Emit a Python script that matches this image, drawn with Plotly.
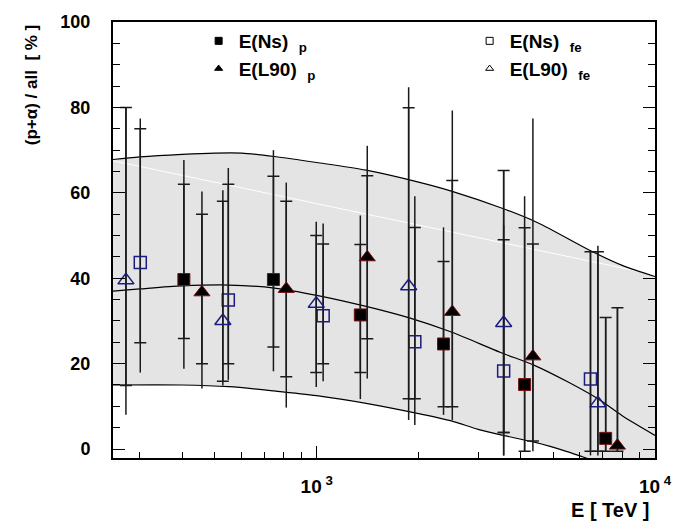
import numpy as np
import plotly.graph_objects as go

# ---------------- data ----------------
# E(Ns)_p  (filled squares)
nsp_E = [405, 745, 1346, 2371, 4117, 7148]
nsp_y = [39.7, 39.7, 31.4, 24.6, 15.1, 2.5]
nsp_tick_hi = [62.0, 63.9, 47.9, 43.9, 51.8, 30.8]
nsp_tick_lo = [25.9, 23.9, 17.9, 9.9, -0.5, -0.5]
nsp_end_hi = [67.7, 70.0, 54.7, 51.9, 59.2, 30.8]
nsp_end_lo = [18.8, 18.2, 11.7, 8.0, -0.5, -0.5]

# E(L90)_p (filled triangles)
lp_E = [458, 813, 1411, 2517, 4356, 7745]
lp_y = [36.7, 37.5, 44.9, 32.1, 21.7, 0.8]
lp_tick_hi = [55.0, 58.0, 64.0, 62.9, 48.0, 33.1]
lp_tick_lo = [20.0, 16.9, 25.8, 9.9, 1.9, -0.5]
lp_end_hi = [60.3, 62.4, 71.0, 79.3, 77.4, 33.1]
lp_end_lo = [14.2, 9.7, 16.5, 6.8, -0.5, -0.5]

# E(Ns)_fe (open squares)
nsf_E = [301, 548, 1045, 1950, 3570, 6446]
nsf_y = [43.7, 34.9, 31.2, 25.1, 18.3, 16.4]
nsf_tick_hi = [75.0, 62.0, 48.0, 51.9, 49.0, 46.2]
nsf_tick_lo = [24.9, 20.0, 20.0, 11.8, 3.9, -0.5]
nsf_end_hi = [77.4, 65.8, 52.8, 59.2, 52.4, 46.4]
nsf_end_lo = [17.9, 16.2, 15.9, 5.6, -1.5, -1.5]

# E(L90)_fe (open triangles)
lf_E = [273, 528, 997, 1870, 3570, 6780]
lf_y = [39.5, 30.0, 34.0, 38.1, 29.5, 10.7]
lf_tick_hi = [80.0, 58.0, 50.0, 79.9, 65.2, 46.2]
lf_tick_lo = [14.9, 15.9, 17.9, 11.8, 3.9, -0.5]
lf_end_hi = [80.0, 60.6, 53.2, 84.7, 65.2, 47.6]
lf_end_lo = [8.0, 14.9, 14.5, 6.8, -1.5, -1.5]

# model curves
upper_E = [250, 300, 400, 500, 600, 750, 1000, 1400, 2000, 2500, 3500, 4500, 6500, 8000, 10000]
upper_y = [67.8, 68.4, 69.0, 69.3, 69.3, 68.5, 67.1, 65.3, 62.5, 60.4, 56.5, 53.0, 46.3, 43.0, 40.4]
mid_E = [250, 300, 400, 550, 750, 1000, 1400, 1900, 2500, 3500, 4400, 5500, 6800, 8000, 10000]
mid_y = [37.0, 37.5, 38.2, 38.4, 37.7, 36.0, 33.4, 30.6, 27.4, 22.6, 19.6, 15.8, 11.7, 7.8, 3.2]
lower_E = [250, 400, 550, 750, 1000, 1400, 2000, 2500, 3000, 3500, 4400, 5500, 6100, 7000, 10000]
lower_y = [15.0, 15.0, 14.6, 13.6, 12.5, 10.7, 8.3, 6.6, 4.6, 3.3, 1.6, -0.6, -1.8, -3.5, -8.0]
faint_E = [250, 10000]
faint_y = [67.5, 40.8]

# axis ticks
x_tickvals = [1000, 10000]
x_ticktext = ["<b>10</b><sup><b> 3</b></sup>", "<b>10</b><sup><b> 4</b></sup>"]
x_minor = [300, 400, 500, 600, 700, 800, 900, 2000, 3000, 4000, 5000, 6000, 7000, 8000, 9000]
y_tickvals = [0, 20, 40, 60, 80, 100]
y_ticktext = ["<b>0</b>", "<b>20</b>", "<b>40</b>", "<b>60</b>", "<b>80</b>", "<b>100</b>"]

FONT = "Liberation Sans, Arial, Helvetica, sans-serif"
fig = go.Figure()

# shaded band (upper curve + reversed lower curve)
band_x = upper_E + lower_E[::-1]
band_y = upper_y + lower_y[::-1]
fig.add_trace(go.Scatter(x=band_x, y=band_y, fill="toself", fillcolor="#e4e4e4",
                         line=dict(width=0), mode="lines", showlegend=False, hoverinfo="skip"))
fig.add_trace(go.Scatter(x=faint_E, y=faint_y, mode="lines", line=dict(color="white", width=1),
                         showlegend=False, hoverinfo="skip"))
for cx, cy in [(upper_E, upper_y), (mid_E, mid_y), (lower_E, lower_y)]:
    fig.add_trace(go.Scatter(x=cx, y=cy, mode="lines", line=dict(color="black", width=1.2, shape="spline", smoothing=0.8),
                             showlegend=False, hoverinfo="skip"))

def add_series(E, y, thi, tlo, ehi, elo, symbol, color, lcolor, lwidth, size):
    y = np.array(y); thi = np.array(thi); tlo = np.array(tlo)
    ehi = np.array(ehi); elo = np.array(elo)
    # outer extent, no caps
    fig.add_trace(go.Scatter(x=E, y=y, mode="markers", marker=dict(size=1, opacity=0),
                             error_y=dict(type="data", symmetric=False, array=ehi - y, arrayminus=y - elo,
                                          width=0, thickness=1.5, color="#1a1a1a"),
                             showlegend=False, hoverinfo="skip"))
    # inner error with caps + markers
    fig.add_trace(go.Scatter(x=E, y=y, mode="markers",
                             marker=dict(symbol=symbol, size=size, color=color, line=dict(color=lcolor, width=lwidth)),
                             error_y=dict(type="data", symmetric=False, array=thi - y, arrayminus=y - tlo,
                                          width=6, thickness=1.5, color="#1a1a1a"),
                             showlegend=False))

add_series(nsp_E, nsp_y, nsp_tick_hi, nsp_tick_lo, nsp_end_hi, nsp_end_lo, "square", "black", "#7a1010", 1, 12)
add_series(lp_E, lp_y, lp_tick_hi, lp_tick_lo, lp_end_hi, lp_end_lo, "triangle-up", "black", "#7a1010", 1, 14)
add_series(nsf_E, nsf_y, nsf_tick_hi, nsf_tick_lo, nsf_end_hi, nsf_end_lo, "square-open", "#1c1c80", "#1c1c80", 1.5, 12)
add_series(lf_E, lf_y, lf_tick_hi, lf_tick_lo, lf_end_hi, lf_end_lo, "triangle-up-open", "#1c1c80", "#1c1c80", 1.5, 14)

# legend-only entries (two legends: left column and right column)
leg = [("<b>E(Ns)&nbsp;&nbsp;<sub>p</sub></b>", "square", "legend", "a"),
       ("<b>E(L90)&nbsp;&nbsp;<sub>p</sub></b>", "triangle-up", "legend", "b"),
       ("<b>E(Ns)&nbsp;&nbsp;<sub>fe</sub></b>", "square-open", "legend2", "c"),
       ("<b>E(L90)&nbsp;&nbsp;<sub>fe</sub></b>", "triangle-up-open", "legend2", "d")]
for name, sym, lg, grp in leg:
    fig.add_trace(go.Scatter(x=[None], y=[None], mode="markers", name=name, legend=lg, legendgroup=grp,
                             marker=dict(symbol=sym, size=7, color="black", line=dict(color="black", width=1))))

legend_common = dict(bgcolor="rgba(0,0,0,0)", font=dict(size=19, family=FONT, color="black"),
                     traceorder="normal", xanchor="left", yanchor="top", tracegroupgap=4)
fig.update_layout(
    width=685, height=525,
    margin=dict(l=113, r=30, t=20, b=67),
    paper_bgcolor="white", plot_bgcolor="white",
    font=dict(family=FONT, color="black", size=16),
    legend=dict(x=0.158, y=1.0, **legend_common),
    legend2=dict(x=0.658, y=1.0, **legend_common),
    xaxis=dict(type="log", range=[np.log10(250), 4], tickvals=x_tickvals, ticktext=x_ticktext,
               ticks="inside", ticklen=12, tickwidth=1, tickcolor="black",
               minor=dict(tickvals=x_minor, ticks="inside", ticklen=6, tickcolor="black", tickwidth=1),
               showline=True, linecolor="black", linewidth=2, mirror=True, showgrid=False, zeroline=False,
               tickfont=dict(size=19, family=FONT, color="black"), ticklabelstandoff=10),
    yaxis=dict(range=[-2.1, 100], tickvals=y_tickvals, ticktext=y_ticktext,
               ticks="inside", ticklen=12, tickwidth=1, tickcolor="black",
               minor=dict(dtick=5, tick0=0, ticks="inside", ticklen=7, tickcolor="black", tickwidth=1),
               showline=True, linecolor="black", linewidth=2, mirror="ticks", showgrid=False, zeroline=False,
               tickfont=dict(size=18, family=FONT, color="black"), ticklabelstandoff=17),
)

fig.add_annotation(text="<b>(p+α) / all  [ % ]</b>", textangle=-90, xref="paper", yref="paper",
                   x=-0.15, y=1.0, xanchor="center", yanchor="top", showarrow=False,
                   font=dict(size=17, family=FONT))
fig.add_annotation(text="<b>E [ TeV ]</b>", xref="paper", yref="paper",
                   x=0.995, y=-0.09, xanchor="right", yanchor="top", showarrow=False,
                   font=dict(size=20, family=FONT))

fig.write_html("out.html")
